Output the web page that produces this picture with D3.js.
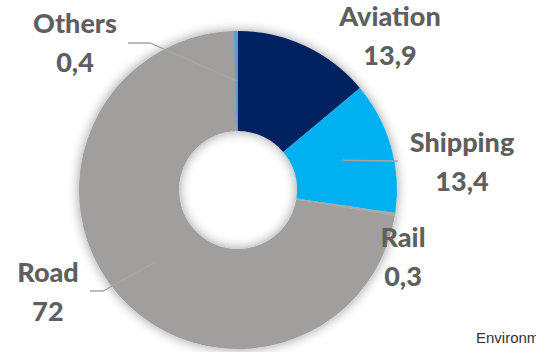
<!DOCTYPE html>
<html>
<head>
<meta charset="utf-8">
<script src="https://cdn.jsdelivr.net/npm/d3@7"></script>
<style>
  html, body { margin: 0; padding: 0; background: #fff; }
  svg { display: block; }
</style>
</head>
<body>
<svg id="chart" width="536" height="352"></svg>
<script>
const categories = ["Aviation", "Shipping", "Rail", "Road", "Others"];
const values = [13.9, 13.4, 0.3, 72, 0.4];
const valueLabels = ["13,9", "13,4", "0,3", "72", "0,4"];
const colors = ["#002060", "#00B0F0", "#ABA9A8", "#A19F9E", "#5B9BD5"];
// label anchor offsets relative to the donut centre (layout only)
const labelPos = [[152, -164], [224, -38], [165, 57], [-190, 92], [-163, -157]];
const hasLeader = [false, true, false, true, true];

const W = 536, H = 352;
const cx = 238, cy = 190, rOuter = 159, rInner = 59;
const svg = d3.select("#chart");

const defs = svg.append("defs");
const f = defs.append("filter").attr("id", "glow")
  .attr("x", "-30%").attr("y", "-30%").attr("width", "160%").attr("height", "160%");
f.append("feGaussianBlur").attr("in", "SourceAlpha").attr("stdDeviation", 6).attr("result", "b");
f.append("feOffset").attr("in", "b").attr("dx", 0).attr("dy", 0).attr("result", "o");
f.append("feComponentTransfer").attr("in", "o").attr("result", "s")
  .append("feFuncA").attr("type", "linear").attr("slope", 0.4);
const m = f.append("feMerge");
m.append("feMergeNode").attr("in", "s");
m.append("feMergeNode").attr("in", "SourceGraphic");

const data = categories.map((c, i) => ({ cat: c, value: values[i], label: valueLabels[i], i }));
const pie = d3.pie().sort(null).value(d => d.value).startAngle(0).endAngle(2 * Math.PI);
const arcs = pie(data);
const arc = d3.arc().innerRadius(rInner).outerRadius(rOuter);

const g = svg.append("g").attr("transform", `translate(${cx},${cy})`);
const slices = g.append("g").attr("filter", "url(#glow)");
slices.selectAll("path").data(arcs).join("path")
  .attr("d", arc)
  .attr("fill", d => colors[d.data.i]);

// leader lines
const leaderColor = "#A6A6A6";
arcs.forEach(a => {
  const i = a.data.i;
  if (!hasLeader[i]) return;
  const [x0, y0] = arc.centroid(a);
  const [lx, ly] = labelPos[i];
  let pts;
  if (i === 1) {
    pts = [[x0, y0], [lx - 64, ly + 9]];
  } else if (i === 3) {
    pts = [[x0, y0], [lx + 55, ly + 9], [lx + 42, ly + 9]];
  } else {
    pts = [[x0, y0], [lx + 75, ly + 10], [lx + 53, ly + 10]];
  }
  g.append("path")
    .attr("d", d3.line()(pts))
    .attr("fill", "none")
    .attr("stroke", leaderColor)
    .attr("stroke-width", 1.3);
});

// labels
const lbl = g.append("g")
  .attr("font-family", "Lato, 'Open Sans', sans-serif")
  .attr("font-weight", 900)
  .attr("font-size", 27)
  .attr("fill", "#5f5f5f")
  .attr("text-anchor", "middle");
arcs.forEach(a => {
  const i = a.data.i;
  const [lx, ly] = labelPos[i];
  const t = lbl.append("text").attr("x", lx).attr("y", ly);
  t.append("tspan").attr("x", lx).attr("dy", 0).text(a.data.cat);
  t.append("tspan").attr("x", lx).attr("dy", 39).text(a.data.label);
});

svg.append("text")
  .attr("x", 476).attr("y", 343)
  .attr("font-family", "Arial, 'Liberation Sans', sans-serif")
  .attr("font-size", 15)
  .attr("fill", "#333")
  .text("Environment Agency");
</script>
</body>
</html>
